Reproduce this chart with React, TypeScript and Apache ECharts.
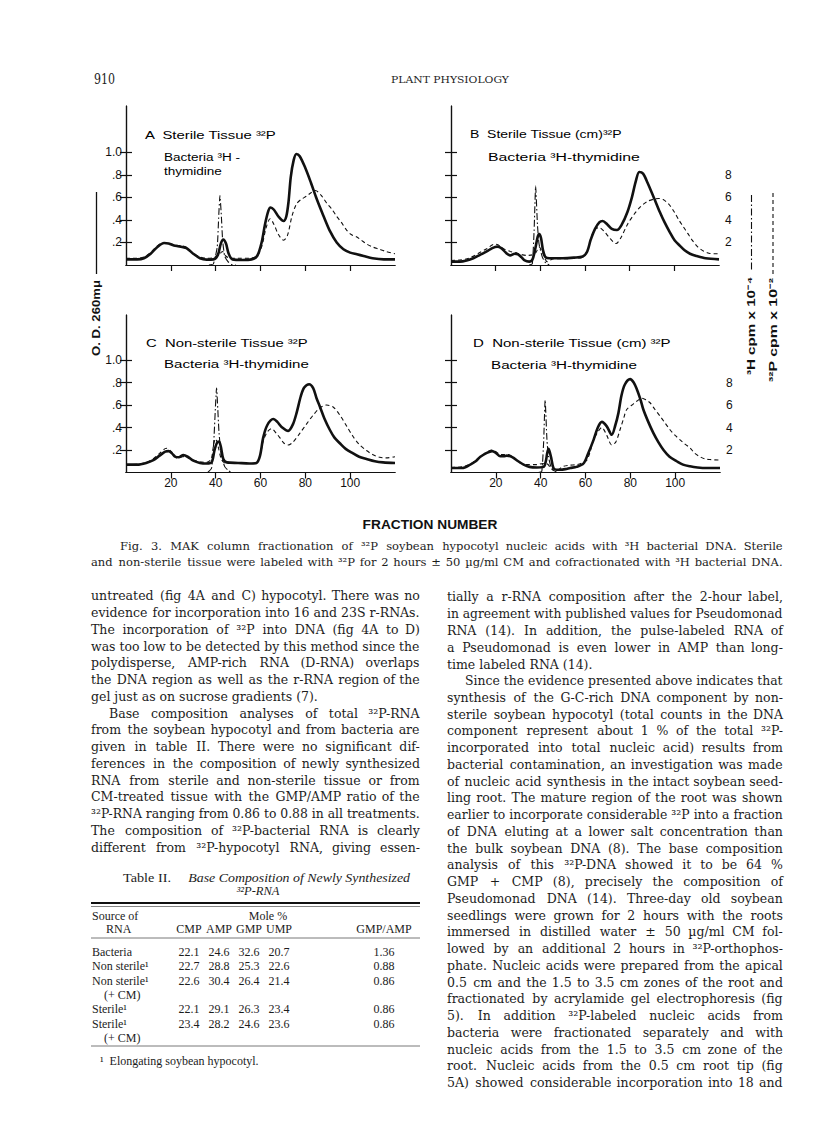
import React, { useEffect, useRef } from "react";
import * as echarts from "echarts";

// ---------- DATA ----------
const fractionTicks = [20, 40, 60, 80, 100];
const odTicks = [0.2, 0.4, 0.6, 0.8, 1.0];
const cpmTicks = [2, 4, 6, 8];
const cpmTickMarks = [2, 4, 6, 8, 10];

// Panel A  (fraction, O.D. 260 mμ) / (fraction, cpm)
const odA: number[][] = [[0,0.05],[5,0.05],[8,0.06],[11,0.1],[14,0.16],[17,0.195],[19,0.19],[22,0.17],[25,0.16],[27,0.15],[30,0.1],[33,0.06],[36,0.048],[39,0.05],[41,0.09],[42.3,0.19],[43.4,0.225],[44.6,0.19],[45.8,0.1],[47.5,0.05],[52,0.045],[56,0.05],[58.5,0.08],[60.5,0.2],[62,0.36],[63.5,0.48],[64.5,0.51],[66,0.49],[68,0.43],[70.3,0.39],[71.5,0.43],[72.5,0.56],[73.5,0.78],[74.8,0.93],[76,0.985],[77.5,0.965],[80,0.86],[82.5,0.73],[85,0.59],[88,0.44],[91,0.3],[94,0.2],[97,0.14],[100,0.11],[103,0.095],[106,0.08],[110,0.06],[115,0.05],[120,0.05]];
const p32A: number[][] = [[0,0.6],[5,0.6],[8,0.7],[11,1.1],[14,1.7],[17,2.0],[19,1.95],[22,1.75],[25,1.7],[27,1.55],[30,1.05],[33,0.7],[36,0.6],[39,0.65],[41.5,0.9],[43,1.2],[44.5,0.8],[46.5,0.6],[50,0.6],[55,0.6],[58.5,0.8],[60.5,1.6],[62.5,3.3],[64.3,4.1],[66,3.6],[68,2.7],[70.3,2.2],[72,2.6],[74,4.3],[76,5.4],[78,5.8],[80.5,6.1],[82.5,6.4],[84.5,6.6],[87,6.2],[89.5,5.5],[92,4.9],[94,4.3],[96,3.8],[98.4,3.1],[100.5,2.7],[102.8,2.5],[105,2.2],[107,1.9],[110,1.6],[113,1.4],[116,1.2],[120,1.0]];
const h3A: number[][] = [[37,0],[39,0.1],[40.7,1.6],[41.4,4.5],[41.9,6.15],[42.5,4.5],[43.1,2.2],[44,0.8],[45.5,0.3],[47,0.05],[49,0]];

// Panel B
const odB: number[][] = [[0,0.03],[4,0.03],[7,0.04],[10,0.06],[13,0.09],[16,0.12],[18.5,0.15],[20.7,0.163],[22.5,0.15],[24.5,0.11],[26.5,0.085],[28.5,0.1],[30,0.095],[31.5,0.07],[33,0.04],[35,0.03],[36.5,0.05],[37.8,0.15],[38.8,0.25],[39.5,0.275],[40.3,0.24],[41.2,0.13],[42.3,0.07],[44,0.06],[50,0.06],[55,0.065],[59,0.075],[61,0.12],[62.5,0.22],[64.5,0.32],[66.5,0.38],[67.9,0.39],[70,0.36],[72,0.32],[74.3,0.31],[76.5,0.36],[79,0.47],[81,0.6],[82.7,0.74],[84.3,0.825],[86,0.81],[88,0.73],[91,0.59],[93.5,0.47],[95.6,0.38],[98,0.29],[100.1,0.22],[102.5,0.17],[104.6,0.13],[107,0.1],[110,0.08],[114,0.06],[120,0.05]];
const p32B: number[][] = [[0,0.4],[4,0.45],[8,0.6],[12,1.0],[16,1.45],[19.5,1.85],[21,1.8],[23.5,1.45],[26.5,1.2],[29,1.1],[31,0.95],[34,0.85],[36.5,0.9],[38,1.1],[39.5,1.6],[40.8,1.2],[42,0.6],[43,0.3],[44.5,0.45],[46,0.55],[50,0.55],[55,0.6],[59,0.7],[61,1.2],[62.5,2.3],[64.5,3.2],[66.5,3.3],[68.5,3.0],[71,2.4],[73.9,1.9],[76,2.4],[79,3.6],[82,4.5],[85,5.2],[88,5.65],[91,5.85],[93,5.9],[95,5.8],[97.5,5.4],[100,4.7],[102,4.0],[104,3.4],[106,2.8],[108,2.2],[110.5,1.6],[113,1.25],[115.5,1.05],[118,1.0],[120,1.0]];
const h3B: number[][] = [[35,0],[36.4,0.1],[37.2,3.0],[37.9,7.0],[38.7,3.6],[39.4,1.9],[40.9,0.7],[42.5,0.15],[44,0]];

// Panel C
const odC: number[][] = [[0,0.07],[5,0.07],[9,0.085],[12.2,0.11],[15,0.15],[17.5,0.185],[19,0.19],[20.5,0.17],[22,0.14],[23.5,0.135],[25.6,0.155],[27.5,0.14],[30,0.105],[33,0.085],[36,0.08],[38.2,0.09],[39.5,0.2],[40.5,0.26],[41.5,0.275],[42.3,0.23],[43.4,0.12],[45,0.09],[50,0.085],[55,0.08],[58.2,0.085],[59.8,0.15],[61.2,0.31],[63,0.42],[65.7,0.475],[67.5,0.45],[69.4,0.405],[72.4,0.37],[74.5,0.43],[76.1,0.53],[78,0.68],[79.5,0.755],[81.7,0.785],[83.5,0.75],[85,0.66],[86.5,0.585],[88.5,0.48],[90.9,0.38],[93,0.31],[95.4,0.26],[98,0.21],[101.3,0.17],[104,0.14],[107.3,0.12],[111,0.1],[114.7,0.09],[120,0.085]];
const p32C: number[][] = [[0,0.7],[5,0.72],[9,0.9],[12,1.2],[15,1.7],[18,2.15],[20,1.9],[22.6,1.3],[24.5,1.35],[26.3,1.45],[28,1.3],[30,1.1],[33,0.95],[36,0.9],[38,1.2],[39.2,2.6],[40,3.0],[41,2.4],[42.5,1.2],[44,0.85],[48,0.8],[55,0.8],[58.2,0.85],[59.8,1.5],[61.2,2.8],[63,3.6],[64.9,3.9],[67,3.5],[69,3.0],[70.5,2.6],[72.4,2.45],[74.5,2.7],[77.6,3.5],[80.5,4.3],[83.5,5.1],[86.5,5.75],[89.5,6.0],[92.5,5.8],[95.4,5.1],[98.5,4.1],[101.3,3.2],[104,2.5],[107.3,1.95],[110,1.6],[113.2,1.35],[116,1.3],[120,1.4]];
const h3C: number[][] = [[36.5,0],[38.2,0.4],[39.2,2.9],[40.4,7.5],[41.5,3.5],[42.6,1.4],[44.1,0.5],[45.5,0.2],[47.1,0]];

// Panel D
const odD: number[][] = [[0,0.04],[5,0.04],[8.6,0.07],[11,0.1],[13.1,0.14],[16,0.175],[18.3,0.19],[20,0.175],[22,0.145],[23.5,0.145],[24.9,0.15],[26.5,0.145],[27.9,0.13],[30,0.1],[32.4,0.07],[35,0.05],[38.3,0.045],[41.3,0.05],[42.3,0.1],[42.9,0.17],[43.5,0.21],[44.1,0.18],[44.8,0.12],[45.7,0.04],[47,0.025],[48.7,0.025],[51,0.03],[53.2,0.04],[56,0.05],[59.1,0.08],[61,0.16],[63.6,0.29],[65.5,0.4],[67.3,0.45],[69.5,0.41],[71.7,0.335],[73.3,0.42],[74.7,0.53],[76,0.68],[77.5,0.78],[79.9,0.83],[81.5,0.8],[82.9,0.74],[84.5,0.65],[85.8,0.56],[88,0.45],[90.3,0.35],[92.5,0.27],[94.8,0.2],[97.5,0.14],[100.7,0.1],[103.5,0.07],[106.6,0.055],[110,0.045],[114,0.04],[120,0.04]];
const p32D: number[][] = [[0,0.45],[5,0.5],[9,0.8],[12,1.25],[15,1.7],[18.3,2.0],[20,1.85],[22,1.6],[24,1.6],[25.7,1.6],[28,1.3],[30.9,0.85],[34,0.7],[38.3,0.7],[41,0.8],[43,0.75],[44.5,0.4],[46,0.15],[47.5,0.2],[50.2,0.55],[53,0.65],[56.1,0.7],[58.5,0.85],[60.6,1.1],[62,1.8],[63.6,2.9],[65.5,3.6],[67.3,4.0],[69.5,3.3],[71.7,2.45],[73.5,2.7],[75.4,3.8],[77,4.8],[78.4,5.6],[81.4,6.1],[83,6.35],[85.1,6.6],[87,6.45],[88.8,6.2],[91,5.6],[93.3,5.0],[95.5,4.4],[97.7,3.8],[100,3.3],[102.2,2.9],[104.5,2.5],[106.6,2.2],[108.8,1.7],[111.1,1.4],[113.3,1.2],[115.5,1.15],[120,1.1]];
const h3D: number[][] = [[39,0],[40.5,0.1],[41.3,2.6],[42,6.45],[42.8,2.9],[43.5,1.4],[44.6,0.5],[46,0.15],[47.2,0]];

const panelTitles = ["A  Sterile Tissue ³²P", "B  Sterile Tissue (cm)³²P", "C  Non-sterile Tissue ³²P", "D  Non-sterile Tissue (cm) ³²P"];
const panelSubtitles = [["Bacteria ³H -", "thymidine"], ["Bacteria ³H-thymidine"], ["Bacteria ³H-thymidine"], ["Bacteria ³H-thymidine"]];

// Table II
const tableHeaders = ["CMP", "AMP", "GMP", "UMP", "GMP/AMP"];
const tableSources = ["Bacteria", "Non sterile¹", "Non sterile¹", "Sterile¹", "Sterile¹"];
const tableWithCM = [false, false, true, false, true];
const cmpVals = [22.1, 22.7, 22.6, 22.1, 23.4];
const ampVals = [24.6, 28.8, 30.4, 29.1, 28.2];
const gmpVals = [32.6, 25.3, 26.4, 26.3, 24.6];
const umpVals = [20.7, 22.6, 21.4, 23.4, 23.6];
const ratioVals = [1.36, 0.88, 0.86, 0.86, 0.86];

const captionLines = [
  "Fig. 3.  MAK column fractionation of ³²P soybean hypocotyl nucleic acids with ³H bacterial DNA.  Sterile",
  "and non-sterile tissue were labeled with ³²P for 2 hours ± 50 µg/ml CM and cofractionated with ³H bacterial DNA.",
];

const leftLines = [
  "untreated (fig 4A and C) hypocotyl.  There was no",
  "evidence for incorporation into 16 and 23S r-RNAs.",
  "The incorporation of ³²P into DNA (fig 4A to D)",
  "was too low to be detected by this method since the",
  "polydisperse, AMP-rich RNA (D-RNA) overlaps",
  "the DNA region as well as the r-RNA region of the",
  "gel just as on sucrose gradients (7).",
  "Base composition analyses of total ³²P-RNA",
  "from the soybean hypocotyl and from bacteria are",
  "given in table II.  There were no significant dif-",
  "ferences in the composition of newly synthesized",
  "RNA from sterile and non-sterile tissue or from",
  "CM-treated tissue with the GMP/AMP ratio of the",
  "³²P-RNA ranging from 0.86 to 0.88 in all treatments.",
  "The composition of ³²P-bacterial RNA is clearly",
  "different from ³²P-hypocotyl RNA, giving essen-",
];
const leftParaEnd = [6];
const leftIndent = [7];

const rightLines = [
  "tially a r-RNA composition after the 2-hour label,",
  "in agreement with published values for Pseudomonad",
  "RNA (14).  In addition, the pulse-labeled RNA of",
  "a Pseudomonad is even lower in AMP than long-",
  "time labeled RNA (14).",
  "Since the evidence presented above indicates that",
  "synthesis of the G-C-rich DNA component by non-",
  "sterile soybean hypocotyl (total counts in the DNA",
  "component represent about 1 % of the total ³²P-",
  "incorporated into total nucleic acid) results from",
  "bacterial contamination, an investigation was made",
  "of nucleic acid synthesis in the intact soybean seed-",
  "ling root.  The mature region of the root was shown",
  "earlier to incorporate considerable ³²P into a fraction",
  "of DNA eluting at a lower salt concentration than",
  "the bulk soybean DNA (8).  The base composition",
  "analysis of this ³²P-DNA showed it to be 64 %",
  "GMP + CMP (8), precisely the composition of",
  "Pseudomonad DNA (14).  Three-day old soybean",
  "seedlings were grown for 2 hours with the roots",
  "immersed in distilled water ± 50 µg/ml CM fol-",
  "lowed by an additional 2 hours in ³²P-orthophos-",
  "phate.  Nucleic acids were prepared from the apical",
  "0.5 cm and the 1.5 to 3.5 cm zones of the root and",
  "fractionated by acrylamide gel electrophoresis (fig",
  "5).  In addition ³²P-labeled nucleic acids from",
  "bacteria were fractionated separately and with",
  "nucleic acids from the 1.5 to 3.5 cm zone of the",
  "root.  Nucleic acids from the 0.5 cm root tip (fig",
  "5A) showed considerable incorporation into 18 and",
];
const rightParaEnd = [4];
const rightIndent = [5];

// ---------- LAYOUT / STYLE ----------
const SANS = '"Liberation Sans", Arial, sans-serif';
const SERIF = '"DejaVu Serif", "Liberation Serif", serif';
const TSERIF = '"Liberation Serif", serif';
const INK = "#111";
const TEXT_INK = "#1c1c1c";

type Panel = {
  left: number; top: number; width: number; height: number; yMax: number;
  showX: boolean; showLeft: boolean; showRight: boolean;
  od: number[][]; p32: number[][]; h3: number[][];
  title: [number, number, number]; subs: [number, number, number][];
};

const panels: Panel[] = [
  { left: 126, top: 106, width: 269, height: 159, yMax: 1.41, showX: false, showLeft: true, showRight: false, od: odA, p32: p32A, h3: h3A, title: [145, 135, 132], subs: [[164, 157, 76], [164, 171, 58]] },
  { left: 451, top: 106, width: 268, height: 159, yMax: 1.41, showX: false, showLeft: false, showRight: true, od: odB, p32: p32B, h3: h3B, title: [470, 134, 152], subs: [[488, 157, 152]] },
  { left: 126, top: 315, width: 269, height: 157.5, yMax: 1.4, showX: true, showLeft: true, showRight: false, od: odC, p32: p32C, h3: h3C, title: [146, 343, 162], subs: [[164, 364, 145]] },
  { left: 451, top: 315, width: 269, height: 157.5, yMax: 1.4, showX: true, showLeft: false, showRight: true, od: odD, p32: p32D, h3: h3D, title: [473, 343, 198], subs: [[491, 365, 146]] },
];

function measure(ctx: CanvasRenderingContext2D, text: string, font: string) {
  ctx.font = font;
  return ctx.measureText(text).width;
}

function justify(ctx: CanvasRenderingContext2D, text: string, font: string, target: number) {
  const words = text.split(/ +/);
  let s = words.join(" ");
  const base = measure(ctx, s, font);
  const hs = measure(ctx, "\u200A", font);
  const gaps = words.length - 1;
  const extra = target - base;
  if (gaps > 0 && extra > 0 && hs > 0.3) {
    const n = Math.floor(extra / hs);
    const per = Math.floor(n / gaps);
    const rem = n - per * gaps;
    s = words.map((w, i) => (i < gaps ? w + " " + "\u200A".repeat(per + (i < rem ? 1 : 0)) : w)).join("");
  }
  const w2 = measure(ctx, s, font);
  return { text: s, scale: Math.max(0.75, Math.min(1.3, target / w2)) };
}

type TOpt = { align?: "left" | "center" | "right"; w?: number; justify?: boolean; rot?: number; fill?: string };

function mkText(ctx: CanvasRenderingContext2D, text: string, x: number, y: number, font: string, o: TOpt = {}) {
  let t = text;
  let sx = 1;
  if (o.w) {
    if (o.justify) {
      const r = justify(ctx, text, font, o.w);
      t = r.text; sx = r.scale;
    } else {
      sx = Math.max(0.7, Math.min(1.4, o.w / measure(ctx, text, font)));
    }
  }
  const align = o.align || "left";
  return {
    type: "text", x, y, rotation: o.rot || 0, scaleX: sx, silent: true, z: 20,
    style: { text: t, font, fill: o.fill || INK, textAlign: align, textVerticalAlign: "middle", align, verticalAlign: "middle" },
  };
}

function mkLine(x1: number, y1: number, x2: number, y2: number, w: number, dash?: number[], color = INK) {
  return { type: "line", silent: true, z: 20, shape: { x1, y1, x2, y2 }, style: { stroke: color, lineWidth: w, lineDash: dash } };
}

export default function App() {
  const ref = useRef<HTMLDivElement>(null);

  useEffect(() => {
    if (!ref.current) return;
    const chart = echarts.init(ref.current, undefined, { renderer: "svg", width: 816, height: 1143 });
    const canvas = document.createElement("canvas");
    const ctx = canvas.getContext("2d") as CanvasRenderingContext2D;

    const axisLine = { show: true, lineStyle: { color: INK, width: 1.2 } };
    const labelStyle = { color: INK, fontSize: 12, fontFamily: SANS };

    const grid: any[] = [];
    const xAxis: any[] = [];
    const yAxis: any[] = [];
    const series: any[] = [];
    const graphic: any[] = [];

    panels.forEach((p, i) => {
      grid.push({ left: p.left, top: p.top, width: p.width, height: p.height, show: false, containLabel: false, outerBoundsMode: "none" });
      xAxis.push({
        type: "value", gridIndex: i, position: "bottom", min: 0, max: 120, interval: 20,
        axisLine, axisTick: { show: false }, splitLine: { show: false },
        axisLabel: { show: p.showX, customValues: fractionTicks, margin: 4, ...labelStyle },
      });
      xAxis.push({
        type: "value", gridIndex: i, position: "top", min: 0, max: 120, interval: 20,
        axisLine, splitLine: { show: false }, axisLabel: { show: false },
        axisTick: { show: true, inside: true, length: 6, customValues: fractionTicks, lineStyle: { color: INK, width: 1.2 } },
      });
      yAxis.push({
        type: "value", gridIndex: i, position: "left", min: 0, max: p.yMax, interval: 0.2,
        axisLine, splitLine: { show: false },
        axisTick: { show: true, inside: true, length: 6, customValues: odTicks, lineStyle: { color: INK, width: 1.2 } },
        axisLabel: {
          show: p.showLeft, customValues: odTicks, margin: 4, ...labelStyle,
          formatter: (v: number) => (v >= 0.999 ? "1.0" : "." + Math.round(v * 10)),
        },
      });
      yAxis.push({
        type: "value", gridIndex: i, position: "right", min: 0, max: p.yMax * 10, interval: 2,
        axisLine, splitLine: { show: false },
        axisTick: { show: true, inside: true, length: 6, customValues: cpmTickMarks, lineStyle: { color: INK, width: 1.2 } },
        axisLabel: { show: p.showRight, customValues: cpmTicks, margin: 6, ...labelStyle },
      });
      const common = { type: "line", xAxisIndex: 2 * i, symbol: "none", showSymbol: false, silent: true, clip: true };
      series.push({ ...common, name: "O.D. 260", yAxisIndex: 2 * i, data: p.od, smooth: 0.3, lineStyle: { color: INK, width: 2.6 }, z: 5 });
      series.push({ ...common, name: "32P cpm", yAxisIndex: 2 * i + 1, data: p.p32, smooth: 0.3, lineStyle: { color: INK, width: 1.1, type: [4, 3] }, z: 4 });
      series.push({ ...common, name: "3H cpm", yAxisIndex: 2 * i + 1, data: p.h3, smooth: 0.15, lineStyle: { color: INK, width: 1.1, type: [7, 2.5, 1.5, 2.5] }, z: 4 });

      const pf = `11.5px ${SANS}`;
      graphic.push(mkText(ctx, panelTitles[i], p.title[0], p.title[1], pf, { w: p.title[2], fill: "#000" }));
      panelSubtitles[i].forEach((s, k) => {
        const pos = p.subs[k];
        graphic.push(mkText(ctx, s, pos[0], pos[1], pf, { w: pos[2], fill: "#000" }));
      });
    });

    // axis titles
    const boldSans = `bold 11.5px ${SANS}`;
    graphic.push(mkLine(96.5, 192, 96.5, 274, 1.3));
    graphic.push(mkText(ctx, "O. D. 260mμ", 96.5, 318, boldSans, { align: "center", rot: Math.PI / 2, w: 76 }));
    graphic.push(mkLine(751.5, 195, 751.5, 271, 1.1, [7, 2.5, 1.5, 2.5]));
    graphic.push(mkText(ctx, "³H cpm x 10⁻⁴", 751.5, 326, boldSans, { align: "center", rot: Math.PI / 2, w: 98 }));
    graphic.push(mkLine(773, 193, 773, 275, 1.1, [4, 3]));
    graphic.push(mkText(ctx, "³²P cpm x 10⁻²", 773, 330, boldSans, { align: "center", rot: Math.PI / 2, w: 104 }));
    graphic.push(mkText(ctx, "FRACTION NUMBER", 430, 525, `bold 12.5px ${SANS}`, { align: "center", w: 135 }));

    // header
    graphic.push(mkText(ctx, "910", 94, 79, `14px ${SERIF}`, { w: 21, fill: TEXT_INK }));
    graphic.push(mkText(ctx, "PLANT PHYSIOLOGY", 450, 79, `10px ${SERIF}`, { align: "center", w: 118, fill: TEXT_INK }));

    // caption
    const capFont = `11.5px ${SERIF}`;
    graphic.push(mkText(ctx, captionLines[0], 120, 546, capFont, { w: 783 - 120, justify: true, fill: TEXT_INK }));
    graphic.push(mkText(ctx, captionLines[1], 91, 562, capFont, { w: 783 - 91, justify: true, fill: TEXT_INK }));

    // body columns
    const bodyFont = `12.5px ${SERIF}`;
    const LS = 16.75;
    const colText = (lines: string[], ends: number[], indents: number[], x0: number, x1: number, y0: number) => {
      lines.forEach((ln, k) => {
        const ind = indents.includes(k) ? 18 : 0;
        const isEnd = ends.includes(k);
        graphic.push(mkText(ctx, ln, x0 + ind, y0 + k * LS, bodyFont, isEnd ? { fill: TEXT_INK } : { w: x1 - x0 - ind, justify: true, fill: TEXT_INK }));
      });
    };
    colText(leftLines, leftParaEnd, leftIndent, 91, 420, 596);
    colText(rightLines, rightParaEnd, rightIndent, 447, 783, 597);

    // Table II
    const tFont = `12px ${TSERIF}`;
    const tItal = `italic 12.5px ${TSERIF}`;
    graphic.push(mkText(ctx, "Table II.", 123, 878, tFont, { fill: TEXT_INK, w: 48 }));
    graphic.push(mkText(ctx, "Base Composition of Newly Synthesized", 410, 878, tItal, { align: "right", w: 222, fill: TEXT_INK }));
    graphic.push(mkText(ctx, "³²P-RNA", 258, 891, tItal, { align: "center", fill: TEXT_INK }));
    graphic.push(mkLine(91, 903, 420, 903, 2));
    graphic.push(mkLine(91, 906.5, 420, 906.5, 0.8, undefined, "#666"));
    graphic.push(mkText(ctx, "Source of", 92, 916, tFont, { fill: TEXT_INK }));
    graphic.push(mkText(ctx, "Mole %", 268, 916, tFont, { align: "center", fill: TEXT_INK }));
    graphic.push(mkText(ctx, "RNA", 106, 929, tFont, { fill: TEXT_INK }));
    const colX = [189, 219, 249, 279, 384];
    tableHeaders.forEach((h, k) => graphic.push(mkText(ctx, h, colX[k], 929, tFont, { align: "center", fill: TEXT_INK })));
    graphic.push(mkLine(91, 938, 420, 938, 0.8, undefined, "#555"));
    let ry = 952;
    const numFont = `12px ${TSERIF}`;
    tableSources.forEach((src, r) => {
      graphic.push(mkText(ctx, src, 92, ry, numFont, { fill: TEXT_INK }));
      const vals = [cmpVals[r].toFixed(1), ampVals[r].toFixed(1), gmpVals[r].toFixed(1), umpVals[r].toFixed(1), ratioVals[r].toFixed(2)];
      vals.forEach((v, k) => graphic.push(mkText(ctx, v, colX[k], ry, numFont, { align: "center", fill: TEXT_INK })));
      ry += 14.3;
      if (tableWithCM[r]) {
        graphic.push(mkText(ctx, "(+ CM)", 104, ry, numFont, { fill: TEXT_INK }));
        ry += 14.3;
      }
    });
    graphic.push(mkLine(91, 1046, 420, 1046, 0.8, undefined, "#555"));
    graphic.push(mkText(ctx, "¹  Elongating soybean hypocotyl.", 100, 1061, `12px ${TSERIF}`, { fill: TEXT_INK }));

    chart.setOption({
      animation: false,
      backgroundColor: "#fff",
      grid, xAxis, yAxis, series, graphic,
    });
    return () => chart.dispose();
  }, []);

  return <div ref={ref} style={{ position: "absolute", left: 0, top: 0, width: 816, height: 1143, background: "#fff" }} />;
}
